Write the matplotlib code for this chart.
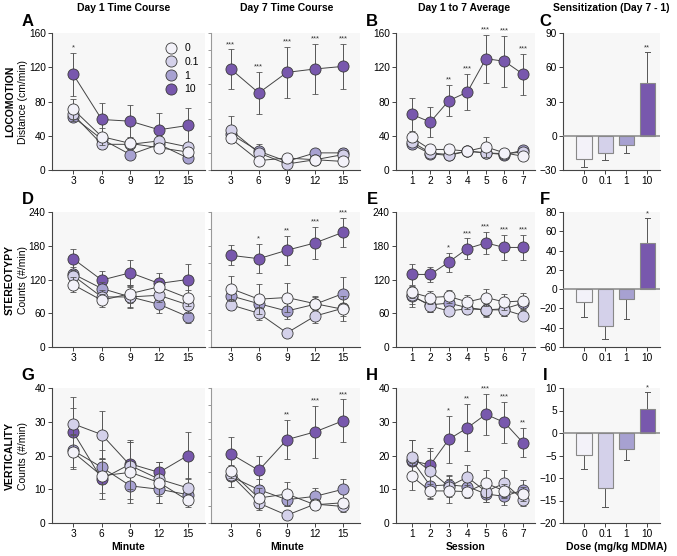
import numpy as np
import matplotlib.pyplot as plt

plt.rcParams['font.family'] = ['Liberation Sans', 'DejaVu Sans']

# doses (mg/kg MDMA) and colours
doses = ['0', '0.1', '1', '10']
colors = ['#f3f2f9', '#d4d1ea', '#a7a1d1', '#7858ad']

minutes = [3, 6, 9, 12, 15]
sessions = [1, 2, 3, 4, 5, 6, 7]

# ---- LOCOMOTION (order of rows: 0, 0.1, 1, 10) ----
loco_d1 = [[71, 39, 31, 26, 21], [65, 30, 30, 34, 27], [62, 36, 18, 30, 14], [112, 59, 57, 47, 52]]
loco_d1_err = [[12, 10, 6, 6, 6], [8, 5, 5, 6, 5], [5, 6, 4, 6, 4], [25, 19, 19, 19, 20]]
loco_d1_stars = ['*', '', '', '', '']
loco_d7 = [[37, 11, 14, 12, 10], [47, 20, 7, 12, 18], [42, 22, 10, 20, 20], [118, 90, 114, 118, 121]]
loco_d7_err = [[5, 3, 3, 3, 3], [16, 4, 3, 3, 4], [6, 8, 3, 4, 6], [23, 25, 30, 29, 26]]
loco_d7_stars = ['***', '***', '***', '***', '***']
loco_avg = [[38, 24, 24, 22, 27, 20, 16], [33, 20, 18, 22, 20, 19, 21],
            [30, 19, 17, 22, 20, 18, 23], [65, 56, 81, 91, 130, 127, 112]]
loco_avg_err = [[5, 4, 4, 4, 12, 3, 3], [4, 3, 3, 3, 5, 3, 3], [5, 3, 3, 3, 6, 3, 3],
                [19, 17, 18, 21, 28, 30, 24]]
loco_avg_stars = ['', '', '**', '***', '***', '***', '***']
loco_sens = [-20, -15.5, -8, 46]
loco_sens_err = [7, 6, 7, 27]
loco_sens_stars = ['', '', '', '**']

# ---- STEREOTYPY ----
stereo_d1 = [[111, 83, 95, 107, 87], [127, 89, 89, 92, 75], [130, 104, 89, 76, 54], [157, 119, 132, 113, 120]]
stereo_d1_err = [[14, 12, 16, 10, 14], [10, 12, 20, 12, 14], [12, 12, 18, 15, 12], [18, 16, 22, 18, 28]]
stereo_d1_stars = ['', '', '', '', '']
stereo_d7 = [[104, 85, 88, 77, 67], [75, 60, 25, 55, 69], [91, 77, 64, 76, 95], [163, 157, 172, 185, 204]]
stereo_d7_err = [[22, 27, 25, 12, 12], [10, 12, 5, 12, 22], [14, 14, 14, 14, 30], [18, 26, 26, 28, 26]]
stereo_d7_stars = ['', '*', '**', '***', '***']
stereo_avg = [[97, 88, 90, 80, 88, 80, 82], [92, 73, 64, 68, 66, 66, 56],
              [90, 75, 78, 70, 66, 68, 78], [129, 129, 151, 175, 185, 177, 177]]
stereo_avg_err = [[10, 12, 12, 12, 15, 14, 14], [15, 10, 8, 10, 10, 10, 8],
                  [18, 12, 10, 10, 12, 12, 12], [18, 14, 17, 18, 20, 22, 22]]
stereo_avg_stars = ['', '', '*', '***', '***', '***', '***']
stereo_sens = [-13, -38.5, -10.5, 48]
stereo_sens_err = [16, 13, 20, 26]
stereo_sens_stars = ['', '', '', '*']

# ---- VERTICALITY ----
vert_d1 = [[21, 14, 15, 12, 6.7], [29.4, 26.2, 17, 13, 10.4], [21.5, 16.5, 11, 10, 8.4], [27, 13, 17.5, 15, 20]]
vert_d1_err = [[5, 5, 9, 6, 2], [8, 7, 7, 5, 3], [5, 5, 4, 4, 3], [7, 6, 7, 3, 7]]
vert_d1_stars = ['', '', '', '', '']
vert_d7 = [[15.3, 7.4, 8.6, 5.4, 6], [14.3, 5.9, 2.3, 5.6, 4.9], [13.8, 9.9, 6.9, 7.9, 10], [20.5, 15.6, 24.7, 27, 30.3]]
vert_d7_err = [[2, 3, 3.5, 1.5, 1.5], [2, 2, 1, 1.5, 1.5], [3, 3, 2, 2.5, 3], [5, 4.2, 5.8, 7.8, 6.3]]
vert_d7_stars = ['', '', '**', '***', '***']
vert_avg = [[13.8, 9.5, 9.5, 9.3, 11.8, 9.5, 8.6], [19.5, 15.4, 10.8, 13.6, 9.3, 11.8, 6.9],
            [18.7, 11, 11.3, 10.8, 8.6, 7.9, 9.8], [18.5, 17.2, 24.8, 28.2, 32.2, 29.8, 23.8]]
vert_avg_err = [[4, 2, 3.5, 2, 4, 2, 2], [5, 6, 3, 3.5, 3, 4, 2],
                [6, 4, 3, 3, 2.5, 2.5, 3], [6, 5, 7, 7, 6, 6.2, 4.3]]
vert_avg_stars = ['', '', '*', '**', '***', '***', '**']
vert_sens = [-4.9, -12.3, -3.5, 5.3]
vert_sens_err = [3.2, 4.2, 2.6, 3.9]
vert_sens_stars = ['', '', '', '*']

W, H = 677, 556
fig = plt.figure(figsize=(W / 100, H / 100), dpi=100)

cols = [(52, 205), (211, 360), (396, 535), (563, 660)]
rows = [(33, 170), (212, 347), (388, 523)]


def make_ax(r, c):
    x0, x1 = cols[c]
    y0, y1 = rows[r]
    ax = fig.add_axes([x0 / W, 1 - y1 / H, (x1 - x0) / W, (y1 - y0) / H])
    ax.set_facecolor('#f7f7f7')
    for s in ['top', 'right']:
        ax.spines[s].set_visible(False)
    for s in ['left', 'bottom']:
        ax.spines[s].set_color('#444444')
        ax.spines[s].set_linewidth(0.8)
    ax.tick_params(labelsize=7.3, length=3, width=0.7, color='#444444', pad=1.5)
    return ax


def line_panel(ax, x, data, errs, stars, ymax):
    # draw 10 first so the lower doses sit on top
    for i in [3, 2, 1, 0]:
        ax.errorbar(x, data[i], yerr=errs[i], color='#444444', lw=0.7,
                    ecolor='#555555', elinewidth=0.7, capsize=2.5, capthick=0.7,
                    marker='o', ms=8, mfc=colors[i], mec='#3a3a3a', mew=0.6,
                    zorder=3 + (3 - i), clip_on=False)
    for xi, yi, ei, s in zip(x, data[3], errs[3], stars):
        if s:
            ax.text(xi, yi + ei + ymax * 0.01, s, ha='center', va='bottom',
                    fontsize=5.5, color='#333333')
    ax.set_ylim(0, ymax)


def bar_panel(ax, vals, errs, stars, ylo, yhi, step):
    pos = np.arange(len(doses))
    ax.bar(pos, vals, width=0.72, color=colors, edgecolor='#888888', lw=0.8, zorder=2)
    for p, v, e in zip(pos, vals, errs):
        sign = 1 if v >= 0 else -1
        ax.plot([p, p], [v, v + sign * e], color='#555555', lw=0.7, zorder=1)
        ax.plot([p - 0.13, p + 0.13], [v + sign * e] * 2, color='#555555', lw=0.7, zorder=1)
    for p, v, e, s in zip(pos, vals, errs, stars):
        if s:
            ax.text(p, v + e + (yhi - ylo) * 0.005, s, ha='center', va='bottom',
                    fontsize=5.5, color='#333333')
    ax.axhline(0, color='#888888', lw=1.1, zorder=3)
    ax.set_ylim(ylo, yhi)
    ax.set_yticks(np.arange(ylo, yhi + step / 2, step))
    ax.set_xticks(pos)
    ax.set_xticklabels(doses)
    ax.set_xlim(-1.0, 3.6)


measures = [
    (loco_d1, loco_d1_err, loco_d1_stars, loco_d7, loco_d7_err, loco_d7_stars,
     loco_avg, loco_avg_err, loco_avg_stars, loco_sens, loco_sens_err, loco_sens_stars,
     160, 40, (-30, 90, 30), 'LOCOMOTION', 'Distance (cm/min)'),
    (stereo_d1, stereo_d1_err, stereo_d1_stars, stereo_d7, stereo_d7_err, stereo_d7_stars,
     stereo_avg, stereo_avg_err, stereo_avg_stars, stereo_sens, stereo_sens_err, stereo_sens_stars,
     240, 60, (-60, 80, 20), 'STEREOTYPY', 'Counts (#/min)'),
    (vert_d1, vert_d1_err, vert_d1_stars, vert_d7, vert_d7_err, vert_d7_stars,
     vert_avg, vert_avg_err, vert_avg_stars, vert_sens, vert_sens_err, vert_sens_stars,
     40, 10, (-20, 10, 5), 'VERTICALITY', 'Counts (#/min)'),
]

letters = [('A', 'B', 'C'), ('D', 'E', 'F'), ('G', 'H', 'I')]

for r, m in enumerate(measures):
    (d1, d1e, d1s, d7, d7e, d7s, av, ave, avs, sv, sve, svs,
     ymax, ystep, (blo, bhi, bstep), rowname, ylab) = m

    ax1 = make_ax(r, 0)
    line_panel(ax1, minutes, d1, d1e, d1s, ymax)
    ax1.set_xlim(0.8, 16.8)
    ax1.set_xticks(minutes)
    ax1.set_yticks(np.arange(0, ymax + 1, ystep))

    ax2 = make_ax(r, 1)
    line_panel(ax2, minutes, d7, d7e, d7s, ymax)
    ax2.set_xlim(0.9, 16.8)
    ax2.set_xticks(minutes)
    ax2.set_yticks(np.arange(0, ymax + 1, ystep / 2))
    ax2.set_yticklabels([])
    ax2.spines['left'].set_color('#999999')
    ax2.tick_params(axis='y', color='#999999', length=2.5)

    ax3 = make_ax(r, 2)
    line_panel(ax3, sessions, av, ave, avs, ymax)
    ax3.set_xlim(0.15, 7.65)
    ax3.set_xticks(sessions)
    ax3.set_yticks(np.arange(0, ymax + 1, ystep))

    ax4 = make_ax(r, 3)
    bar_panel(ax4, sv, sve, svs, blo, bhi, bstep)

    if r == 0:
        handles = [plt.Line2D([], [], ls='none', marker='o', ms=8, mfc=c, mec='#3a3a3a', mew=0.6)
                   for c in colors]
        ax1.legend(handles, doses, loc='upper right', bbox_to_anchor=(1.0, 0.97), frameon=False,
                   fontsize=7.5, handletextpad=0.3, labelspacing=0.35, borderaxespad=0.2)

    yc = 1 - (rows[r][0] + rows[r][1]) / 2 / H
    fig.text(10 / W, yc, rowname, rotation=90, ha='center', va='center',
             fontsize=7.5, fontweight='bold')
    fig.text(23 / W, yc, ylab, rotation=90, ha='center', va='center', fontsize=7.5)

    ytop = 1 - (rows[r][0] - 12) / H
    fig.text(28 / W, ytop, letters[r][0], ha='center', va='center', fontsize=12, fontweight='bold')
    fig.text(372 / W, ytop, letters[r][1], ha='center', va='center', fontsize=12, fontweight='bold')
    fig.text(545 / W, ytop, letters[r][2], ha='center', va='center', fontsize=12, fontweight='bold')

xlabs = [('Minute', 128), ('Minute', 287), ('Session', 466), ('Dose (mg/kg MDMA)', 616)]
for t, xc in xlabs:
    fig.text(xc / W, 1 - 547 / H, t, ha='center', va='center', fontsize=7.5, fontweight='bold')

heads = [('Day 1 Time Course', 124), ('Day 7 Time Course', 287),
         ('Day 1 to 7 Average', 464), ('Sensitization (Day 7 - 1)', 611)]
for t, xc in heads:
    fig.text(xc / W, 1 - 8 / H, t, ha='center', va='center', fontsize=7.5, fontweight='bold')

fig.savefig('out.png', dpi=100)
